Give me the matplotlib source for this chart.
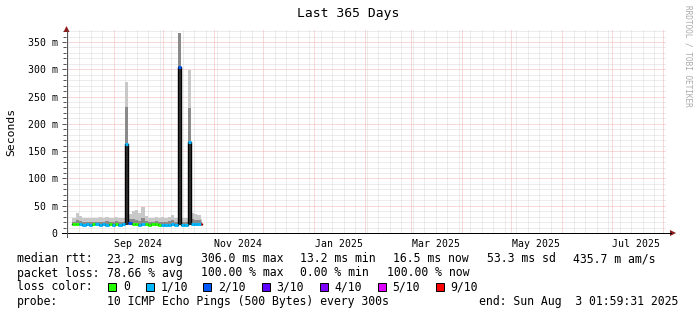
import datetime as dt
import matplotlib
matplotlib.use('Agg')
import matplotlib.pyplot as plt
import matplotlib.dates as mdates
from matplotlib.lines import Line2D
from matplotlib.patches import Polygon, Rectangle

plt.rcParams['font.family'] = ['DejaVu Sans Mono']

W, H = 697, 315

# ---- data (ms), 2-day bins from 2024-08-07, last bin is one day ----
bin_start = dt.datetime(2024, 8, 7)
data_end = dt.datetime(2024, 10, 25)
median = [16, 16.5, 16, 15.5, 16, 15.5, 16.5, 16, 15, 16,
          15.5, 16.5, 15.5, 16, 15, 16.5, 163, 18, 17, 16.5,
          15.5, 16, 16, 15.5, 16, 16.5, 15, 15.5, 15, 15.5,
          16, 15, 305, 15, 15, 167, 17, 16.5, 16.5, 17]
smoke_lo = [14, 14, 14, 13.5, 14, 13.5, 14, 14, 13, 14,
            13, 14, 13.5, 14, 13, 14, 14, 14, 14, 14,
            13.5, 14, 14, 13.5, 14, 14, 13, 13, 13, 13,
            13.5, 13, 14, 13, 13, 14, 14, 14, 14, 14]
smoke_dark = [14, 14, 14, 13.5, 14, 13.5, 14, 14, 13, 14,
              13, 14, 13.5, 14, 13, 14, 163, 14, 14, 14,
              13.5, 14, 14, 13.5, 14, 14, 13, 13, 13, 13,
              13.5, 13, 305, 13, 13, 167, 14, 14, 14, 14]
smoke_mid = [20, 24, 22, 20, 21, 20, 21, 20, 21, 20,
             22, 21, 20, 22, 20, 21, 231, 26, 25, 24,
             22, 28, 22, 21, 20, 22, 21, 20, 21, 22,
             24, 20, 366, 20, 21, 229, 25, 24, 23, 20]
smoke_hi = [28, 37, 31, 28, 27, 28, 27, 28, 29, 27,
            29, 28, 27, 29, 27, 28, 277, 34, 40, 43,
            36, 48, 32, 28, 27, 29, 28, 29, 28, 30,
            33, 28, 366, 28, 27, 299, 37, 34, 33, 26]
loss = [0, 0, 1, 1, 1, 1, 0, 1, 1, 1,
        1, 0, 1, 0, 1, 1, 1, 2, 0, 0,
        1, 1, 0, 0, 0, 0, 0, 1, 1, 1,
        1, 1, 2, 1, 1, 1, 1, 1, 1, 9]

loss_labels = ['0', '1/10', '2/10', '3/10', '4/10', '5/10', '9/10']
loss_keys = [0, 1, 2, 3, 4, 5, 9]
loss_colors = ['#26ff00', '#00b8ff', '#0059ff', '#5e00ff', '#7e00ff', '#dd00ff', '#ff0000']

t_end = dt.datetime(2025, 8, 3, 1, 59, 31)
t_start = t_end - dt.timedelta(days=365)

yticks = [0, 50, 100, 150, 200, 250, 300, 350]

legend_rows = [
    [(16.7, 'median rtt:'), (107.3, '23.2 ms avg'), (201, '306.0 ms max'), (300, '13.2 ms min'),
     (393.3, '16.5 ms now'), (486.7, '53.3 ms sd'), (572.7, '435.7 m am/s')],
    [(16.7, 'packet loss:'), (107.3, '78.66 % avg'), (201, '100.00 % max'), (300, '0.00 % min'),
     (386.7, '100.00 % now')],
    [(16.7, 'probe:'), (107.3, '10 ICMP Echo Pings (500 Bytes) every 300s'),
     (479, 'end: Sun Aug  3 01:59:31 2025')],
]


def fx(x):
    return x / W


def fy(y):
    return 1 - y / H


fig = plt.figure(figsize=(W / 100, H / 100), dpi=100)
fig.patch.set_facecolor('white')
ax = fig.add_axes([fx(66), fy(233), 600 / W, 203 / H])
ax.set_xlim(mdates.date2num(t_start), mdates.date2num(t_end))
ax.set_ylim(0, 203 / 0.5457)
for s in ax.spines.values():
    s.set_visible(False)

# grid (dotted)
px = 0.72
gkw = dict(lw=px, ls=(0, (1, 1)))
d = t_start.date() + dt.timedelta(days=1)
while d < t_end.date():
    x = mdates.date2num(dt.datetime(d.year, d.month, d.day))
    if d.day == 1:
        ax.axvline(x, color='#f0b4b4', zorder=1, **gkw)
    elif d.weekday() == 6:
        ax.axvline(x, color='#dadada', zorder=0.5, **gkw)
    d += dt.timedelta(days=1)
for v in range(10, 380, 10):
    if v % 50 == 0:
        ax.axhline(v, color='#f0b4b4', zorder=1, **gkw)
    else:
        ax.axhline(v, color='#dadada', zorder=0.5, **gkw)

# data
n = len(median)
edges = [bin_start + dt.timedelta(days=2 * i) for i in range(n)] + [data_end]
ex = mdates.date2num(edges)


def ext(a):
    return list(a) + [a[-1]]


ax.fill_between(ex, ext(smoke_mid), ext(smoke_hi), step='post', color='#c8c8c8', lw=0, zorder=2)
ax.fill_between(ex, ext(smoke_dark), ext(smoke_mid), step='post', color='#8a8a8a', lw=0, zorder=2)
ax.fill_between(ex, ext(smoke_lo), ext(smoke_dark), step='post', color='#333333', lw=0, zorder=2)
ax.step(ex, ext(median), where='post', color='black', lw=1.0, zorder=3)
cols = [loss_colors[loss_keys.index(l)] for l in loss]
ax.hlines(median, ex[:-1], ex[1:], colors=cols, lw=2.2, zorder=4)

# y ticks
ax.set_yticks(yticks)
ax.set_yticklabels(['0' if v == 0 else f'{v} m' for v in yticks])
ax.set_yticks(list(range(10, 380, 10)), minor=True)
ax.tick_params(axis='y', which='major', length=3, width=px, color='#555555', labelsize=7.1, pad=3)
ax.tick_params(axis='y', which='minor', length=2, width=px, color='#555555')

# x labels at mid month
xlabels = ['Sep 2024', 'Nov 2024', 'Jan 2025', 'Mar 2025', 'May 2025', 'Jul 2025']
xpos = [dt.datetime(2024, 9, 16), dt.datetime(2024, 11, 16), dt.datetime(2025, 1, 16),
        dt.datetime(2025, 3, 16), dt.datetime(2025, 5, 16), dt.datetime(2025, 7, 16)]
ax.set_xticks(mdates.date2num(xpos))
ax.set_xticklabels(xlabels)
ax.tick_params(axis='x', length=0, labelsize=7.1, pad=4)

# axes lines and arrows
fig.add_artist(Line2D([fx(62), fx(671)], [fy(233), fy(233)], color='black', lw=px))
fig.add_artist(Line2D([fx(66.5), fx(66.5)], [fy(237), fy(31)], color='#555555', lw=px))
fig.add_artist(Polygon([(fx(670), fy(230)), (fx(676), fy(233)), (fx(670), fy(236))],
                       closed=True, color='#8b1a1a', lw=0))
fig.add_artist(Polygon([(fx(63.5), fy(32)), (fx(66.5), fy(26)), (fx(69.5), fy(32))],
                       closed=True, color='#8b1a1a', lw=0))

# titles
fig.text(fx(348), fy(13.5), 'Last 365 Days', ha='center', va='center', fontsize=9.4)
fig.text(fx(11), fy(132), 'Seconds', ha='center', va='center', rotation=90, fontsize=8.2)
fig.text(fx(688), fy(5), 'RRDTOOL / TOBI OETIKER', ha='center', va='top', rotation=270,
         fontsize=5.6, color='#aaaaaa')

# legend
row_y = [259, 273, 301]
for yy, row in zip(row_y, legend_rows):
    for x, s in row:
        fig.text(fx(x), fy(yy), s, ha='left', va='center', fontsize=8.3)

fig.text(fx(16.7), fy(287), 'loss color:', ha='left', va='center', fontsize=8.3)
box_x = [108.3, 145.7, 203.3, 261.7, 320, 377.7, 435.7]
for bx, lab, c in zip(box_x, loss_labels, loss_colors):
    fig.add_artist(Rectangle((fx(bx), fy(291)), 8 / W, 8 / H, facecolor=c,
                             edgecolor='black', lw=0.7))
    fig.text(fx(bx + 14.5), fy(287), lab, ha='left', va='center', fontsize=8.3)

fig.savefig('out.png', dpi=100, facecolor='white')
